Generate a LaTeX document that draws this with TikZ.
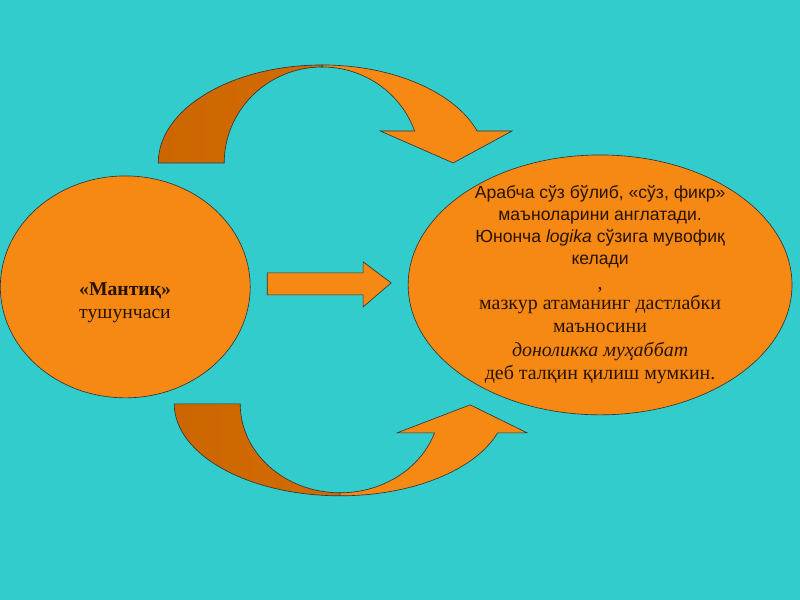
\documentclass[tikz,border=0pt]{standalone}
\usepackage{fontspec}
\setmainfont{Liberation Serif}
\setsansfont{Liberation Sans}
\usetikzlibrary{shapes.geometric}

\definecolor{sea}{RGB}{51,204,204}
\definecolor{amber}{RGB}{245,137,20}
\definecolor{rust}{RGB}{204,102,0}
\definecolor{ink}{RGB}{40,18,0}

\begin{document}
\begin{tikzpicture}[
  edge/.style={draw=black!80,line width=0.45pt},
  bubble/.style={ellipse,edge,fill=amber,inner sep=0pt},
  front/.style={edge,fill=amber},
  back/.style={edge,left color=rust,right color=rust!85!amber},
  words/.style={text=ink,align=center,inner sep=0pt},
]

\fill[sea] (0,0) rectangle (20,15);

\node[bubble,minimum width=6.25cm,minimum height=5.55cm] (concept) at (3.125,7.825) {};
\node[bubble,minimum width=9.6cm,minimum height=6.5cm] (meaning) at (15,7.875) {};

\node[words,align=left,font=\fontsize{14}{16.5}\selectfont] (conceptlabel) at (3.12,7.43)
  {\textbf{«Мантиқ»}\\тушунчаси};

\node[words,font=\sffamily\fontsize{12.5}{15.6}\selectfont] (meaningsans) at (15,9.32)
  {Арабча сўз бўлиб, «сўз, фикр»\\
   маъноларини англатади.\\
   Юнонча \textit{logika} сўзига мувофиқ\\
   келади};
\node[words,font=\fontsize{14.2}{16.8}\selectfont] (meaningserif) at (15,6.6)
  {,\\[-3pt]
   мазкур атаманинг дастлабки\\
   маъносини\\
   \textit{доноликка муҳаббат}\\
   деб талқин қилиш мумкин.};

% straight arrow between the two ellipses
\draw[front] (6.675,8.175) -- (9.075,8.175) -- (9.075,8.45) -- (9.775,7.925)
  -- (9.075,7.325) -- (9.075,7.625) -- (6.675,7.625) -- cycle;

% upper curved arrow
\draw[back] (3.95,10.925) arc[start angle=180,end angle=90,x radius=4.1,y radius=2.45]
  -- (8.05,13.325) arc[start angle=90,end angle=180,x radius=2.45,y radius=2.4] -- cycle;
\draw[front] (8.05,13.375) arc[start angle=90,end angle=19.06,x radius=4.1,y radius=2.45]
  -- (12.8,11.725) -- (11.325,10.925) -- (9.5,11.725) -- (10.36,11.725)
  arc[start angle=19.47,end angle=90,x radius=2.45,y radius=2.4] -- cycle;

% lower curved arrow
\draw[back] (4.35,4.9) arc[start angle=180,end angle=270,x radius=4.15,y radius=2.3]
  -- (8.5,2.675) arc[start angle=270,end angle=180,x radius=2.5,y radius=2.225] -- cycle;
\draw[front] (8.5,2.6) arc[start angle=-90,end angle=-18.37,x radius=4.15,y radius=2.3]
  -- (13.175,4.175) -- (11.75,4.875) -- (9.925,4.175) -- (10.86,4.175)
  arc[start angle=-19.02,end angle=-90,x radius=2.5,y radius=2.225] -- cycle;

\end{tikzpicture}
\end{document}
